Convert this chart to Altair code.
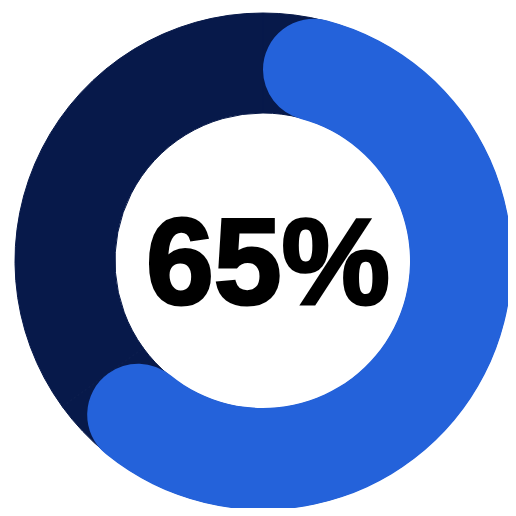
import altair as alt
import pandas as pd
import math

categories = ["Complete", "Remaining"]
values = [65, 35]
label = ["65%"]

df = pd.DataFrame({"category": categories, "value": values})
lab = pd.DataFrame({"label": label})

CX, CY = 255, 253
theta_scale = alt.Scale(domain=[0, 100], range=[0, 2 * math.pi])

ring = alt.Chart(df).mark_arc(
    outerRadius=248, innerRadius=148, color="#07194A",
    stroke="#07194A", strokeWidth=1
).encode(
    theta=alt.Theta("value:Q", stack=True, scale=theta_scale),
    x=alt.value(CX), y=alt.value(CY),
)

prog = alt.Chart(df).transform_filter(
    alt.datum.category == "Complete"
).mark_arc(
    outerRadius=249, innerRadius=147, cornerRadius=51, color="#2462DA"
).encode(
    theta=alt.Theta("value:Q", stack=True, scale=theta_scale),
    x=alt.value(CX), y=alt.value(CY),
)

txt = alt.Chart(lab).mark_text(
    font="Liberation Sans", fontWeight="bold", fontSize=122,
    color="#000000", stroke="#000000", strokeWidth=3,
    align="center", baseline="middle", dy=6
).encode(
    text="label:N", x=alt.value(CX + 5), y=alt.value(CY),
)

chart = alt.layer(ring, prog, txt).properties(
    width=500, height=500, padding=0,
    autosize=alt.AutoSizeParams(type="none"),
).configure_view(stroke=None)

chart.save("out.html", embed_options={"renderer": "svg", "actions": False})
